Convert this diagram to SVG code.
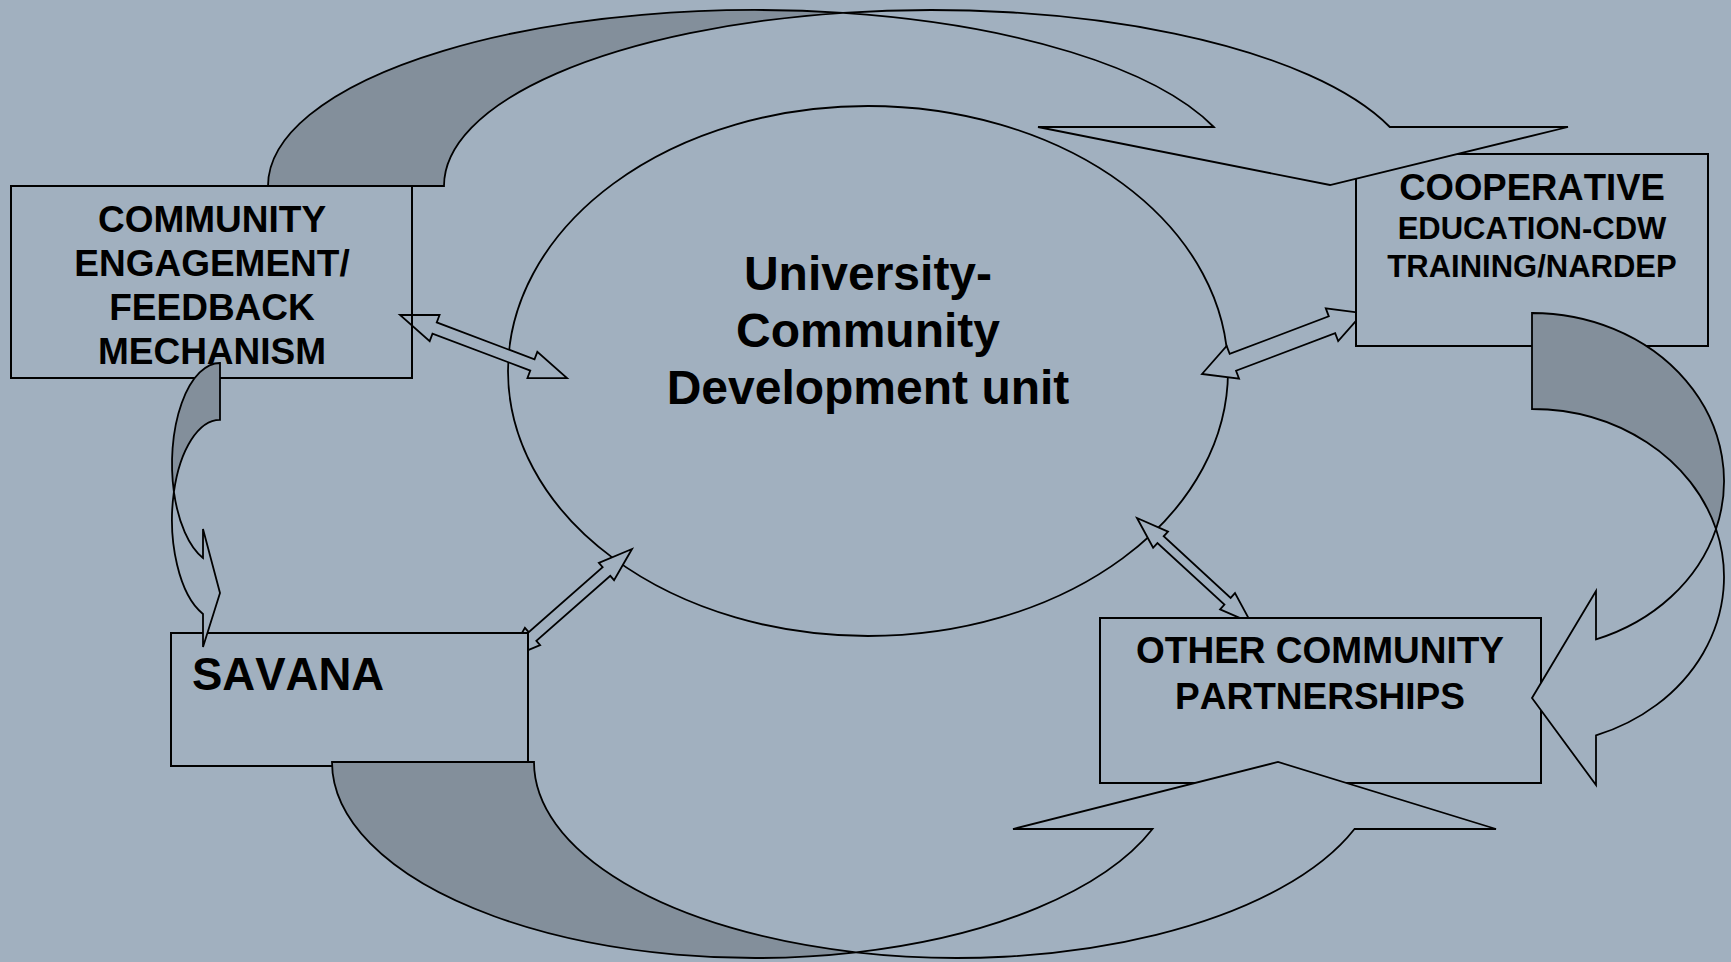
<svg xmlns="http://www.w3.org/2000/svg" width="1731" height="962" viewBox="0 0 1731 962">
  <style>
    .bg{fill:#A1B0BF}
    .node{fill:#A1B0BF;stroke:#000;stroke-width:2}
    .hollow{fill:none;stroke:#000;stroke-width:2}
    .unit{fill:#A1B0BF;stroke:#000;stroke-width:1.8}
    .arrow{fill:#A1B0BF;stroke:#000;stroke-width:1.8;stroke-linejoin:miter}
    .shade{fill:#838F9B;stroke:#000;stroke-width:1.8;stroke-linejoin:miter}
    .label{font-family:"Liberation Sans",Arial,Helvetica,sans-serif;font-weight:bold;fill:#000;text-anchor:middle;font-kerning:none}
    .left{text-anchor:start}
  </style>

  <rect class="bg" x="0" y="0" width="1731" height="962"/>

  <!-- central unit -->
  <g id="node-unit">
    <ellipse class="unit" cx="868" cy="371" rx="360" ry="265"/>
    <text class="label" x="868" y="290" font-size="48">University-</text>
    <text class="label" x="868" y="347" font-size="48">Community</text>
    <text class="label" x="868" y="404" font-size="48">Development unit</text>
  </g>

  <!-- two-way links between the unit and each partner -->
  <g id="connectors">
    <path class="arrow" transform="translate(400,315) rotate(20.67)"
          d="M0,0 L37,-14 L37,-6 L141.5,-6 L141.5,-14 L178.5,0 L141.5,14 L141.5,6 L37,6 L37,14 Z"/>
    <path class="arrow" transform="translate(507,659) rotate(-41.35)"
          d="M0,0 L34,-11.5 L34,-5.8 L132.5,-5.8 L132.5,-11.5 L166.5,0 L132.5,11.5 L132.5,5.8 L34,5.8 L34,11.5 Z"/>
    <path class="arrow" transform="translate(1202,374) rotate(-20.75)"
          d="M0,0 L33,-17.5 L33,-9 L139,-9 L139,-17.5 L172,0 L139,17.5 L139,9 L33,9 L33,17.5 Z"/>
    <path class="arrow" transform="translate(1137,518) rotate(42.6)"
          d="M0,0 L32,-11 L32,-4.6 L123,-4.6 L123,-11 L155,0 L123,11 L123,4.6 L32,4.6 L32,11 Z"/>
  </g>

  <g id="node-engagement">
    <rect class="hollow" x="11" y="186" width="401" height="192"/>
    <text class="label" x="212" y="232" font-size="37">COMMUNITY</text>
    <text class="label" x="212" y="276" font-size="37">ENGAGEMENT/</text>
    <text class="label" x="212" y="320" font-size="37">FEEDBACK</text>
    <text class="label" x="212" y="364" font-size="37">MECHANISM</text>
  </g>

  <g id="node-savana">
    <rect class="node" x="171" y="633" width="357" height="133"/>
    <text class="label left" x="192" y="690" font-size="45.5">SAVANA</text>
  </g>

  <g id="node-cooperative">
    <rect class="node" x="1356" y="154" width="352" height="192"/>
    <text class="label" x="1532" y="200" font-size="36.5">COOPERATIVE</text>
    <text class="label" x="1532" y="239" font-size="31">EDUCATION-CDW</text>
    <text class="label" x="1532" y="277" font-size="31">TRAINING/NARDEP</text>
  </g>

  <g id="node-partnerships">
    <rect class="node" x="1100" y="618" width="441" height="165"/>
    <text class="label" x="1320" y="663" font-size="37">OTHER COMMUNITY</text>
    <text class="label" x="1320" y="709" font-size="37">PARTNERSHIPS</text>
  </g>

  <!-- curved cycle arrows running round the partners -->
  <g id="cycle-arrows">
    <!-- engagement to cooperative (over the top) -->
    <path class="shade" d="M268,186 A487,176 0 0 1 843,12.9 A487,176 0 0 0 444,186 Z"/>
    <path class="arrow" d="M843,12.9 A487,176 0 0 1 1389.8,127 L1568,127 L1330,185 L1038,127 L1213.8,127 A487,176 0 0 0 843,12.9 Z"/>

    <!-- cooperative to partnerships (right side) -->
    <path class="shade" d="M1532,313 A192,168 0 0 1 1716,529 A192,168 0 0 0 1532,409 Z"/>
    <path class="arrow" d="M1716,529 A192,168 0 0 1 1596,735.4 L1596,785 L1532,698 L1596,591 L1596,639.4 A192,168 0 0 0 1716,529 Z"/>

    <!-- savana to partnerships (under the bottom) -->
    <path class="shade" d="M332,762 A423,196 0 0 0 856,952.3 A423,196 0 0 1 534,762 Z"/>
    <path class="arrow" d="M856,952.3 A423,196 0 0 0 1354.5,829 L1496,829 L1278,762 L1013,829 L1152.5,829 A423,196 0 0 1 856,952.3 Z"/>

    <!-- engagement to savana (left side) -->
    <path class="shade" d="M220,363 A48,100.8 0 0 0 173.9,491.8 A48,100.8 0 0 1 220,419.8 Z"/>
    <path class="arrow" d="M173.9,491.8 A48,100.8 0 0 0 203,558 L203,529 L220,593 L203,647 L203,614 A48,100.8 0 0 1 173.9,491.8 Z"/>
  </g>
</svg>
